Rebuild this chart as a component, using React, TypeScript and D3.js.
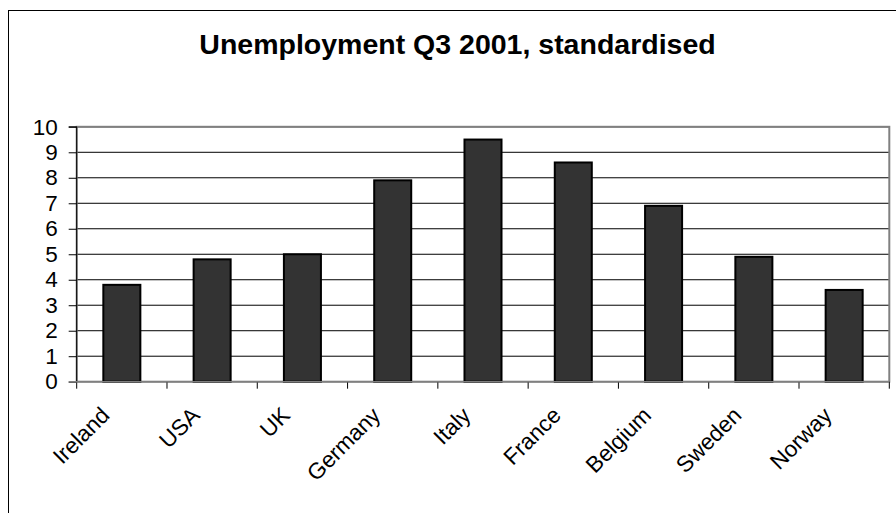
import { useRef, useEffect } from "react";
import * as d3 from "d3";

const countries = ["Ireland", "USA", "UK", "Germany", "Italy", "France", "Belgium", "Sweden", "Norway"];
const rates = [3.8, 4.8, 5.0, 7.9, 9.5, 8.6, 6.9, 4.9, 3.6];
const yTicks = [0, 1, 2, 3, 4, 5, 6, 7, 8, 9, 10];
const title = "Unemployment Q3 2001, standardised";

export default function App() {
  const svgRef = useRef<SVGSVGElement>(null);

  const width = 896;
  const height = 513;
  const left = 76.7, right = 889.3, top = 126.8, bottom = 381.7;

  useEffect(() => {
    if (!svgRef.current) return;
    const svg = d3.select(svgRef.current);
    svg.selectAll("*").remove();

    const font = "'Liberation Sans', Arial, sans-serif";

    // outer chart frame, runs off the page to the right and bottom
    svg.append("rect")
      .attr("x", 8.5).attr("y", 10.5)
      .attr("width", 1000).attr("height", 1000)
      .attr("fill", "white").attr("stroke", "black").attr("stroke-width", 1);

    svg.append("text")
      .attr("x", 457.5).attr("y", 53.5)
      .attr("text-anchor", "middle")
      .attr("font-family", font).attr("font-weight", "bold").attr("font-size", 28.5)
      .text(title);

    const x = d3.scaleBand<string>().domain(countries).range([left, right]).paddingInner(0.59).paddingOuter(0.295);
    const xTicks = d3.scaleBand<string>().domain(countries).range([left, right]);
    const y = d3.scaleLinear().domain([0, 10]).range([bottom, top]);

    // gridlines
    svg.append("g").selectAll("line").data(yTicks.slice(1)).join("line")
      .attr("x1", left).attr("x2", right)
      .attr("y1", d => y(d)).attr("y2", d => y(d))
      .attr("stroke", "black").attr("stroke-width", 1);

    // plot area border
    svg.append("rect")
      .attr("x", left).attr("y", top)
      .attr("width", right - left).attr("height", bottom - top)
      .attr("fill", "none").attr("stroke", "#808080").attr("stroke-width", 2);

    // bars
    svg.append("g").selectAll("rect").data(countries).join("rect")
      .attr("x", d => x(d)!)
      .attr("y", (d, i) => y(rates[i]))
      .attr("width", x.bandwidth())
      .attr("height", (d, i) => bottom - y(rates[i]))
      .attr("fill", "#333333").attr("stroke", "black").attr("stroke-width", 2);

    // y axis
    const gy = svg.append("g").attr("transform", `translate(${left},0)`)
      .call(d3.axisLeft(y).tickValues(yTicks).tickSize(8).tickPadding(11).tickFormat(d3.format("d")));
    gy.select(".domain").attr("stroke", "black").attr("d", `M-8,${top}H0V${bottom}`);
    gy.selectAll("line").attr("stroke", "black");
    gy.selectAll("text").attr("font-family", font).attr("font-size", 22.5).attr("fill", "black");

    // x axis ticks at category boundaries
    const bounds = countries.map(c => xTicks(c)!).concat([right]);
    svg.append("g").selectAll("line").data(bounds).join("line")
      .attr("x1", d => d).attr("x2", d => d)
      .attr("y1", bottom).attr("y2", bottom + 7)
      .attr("stroke", "black").attr("stroke-width", 1);

    svg.append("line")
      .attr("x1", left - 8).attr("x2", right)
      .attr("y1", bottom).attr("y2", bottom)
      .attr("stroke", "#808080").attr("stroke-width", 1.5);

    // rotated category labels
    svg.append("g").selectAll("text").data(countries).join("text")
      .attr("transform", d => `translate(${xTicks(d)! + xTicks.bandwidth() / 2 - 11},${bottom + 35}) rotate(-45)`)
      .attr("text-anchor", "end")
      .attr("font-family", font).attr("font-size", 22.5)
      .text(d => d);
  }, []);

  return (
    <svg ref={svgRef} width={width} height={height}
      style={{ position: "absolute", left: 0, top: 0, background: "white" }} />
  );
}
